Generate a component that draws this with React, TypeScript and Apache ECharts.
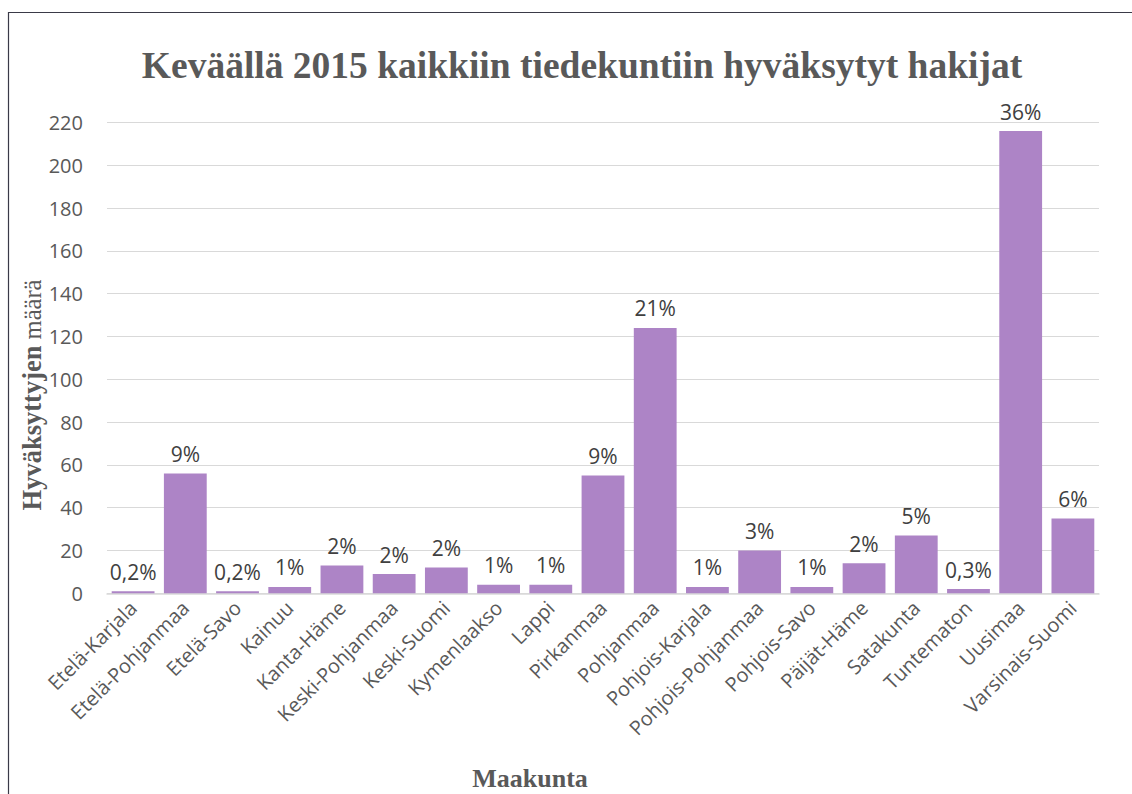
import React, { useEffect, useRef } from "react";
import * as echarts from "echarts";

const categories = [
  "Etelä-Karjala", "Etelä-Pohjanmaa", "Etelä-Savo", "Kainuu", "Kanta-Häme",
  "Keski-Pohjanmaa", "Keski-Suomi", "Kymenlaakso", "Lappi", "Pirkanmaa",
  "Pohjanmaa", "Pohjois-Karjala", "Pohjois-Pohjanmaa", "Pohjois-Savo",
  "Päijät-Häme", "Satakunta", "Tuntematon", "Uusimaa", "Varsinais-Suomi",
];
const values = [1, 56, 1, 3, 13, 9, 12, 4, 4, 55, 124, 3, 20, 3, 14, 27, 2, 216, 35];
const percentLabels = [
  "0,2%", "9%", "0,2%", "1%", "2%", "2%", "2%", "1%", "1%", "9%",
  "21%", "1%", "3%", "1%", "2%", "5%", "0,3%", "36%", "6%",
];
const titleText = "Keväällä 2015 kaikkiin tiedekuntiin hyväksytyt hakijat";
const yNameBold = "Hyväksyttyjen";
const yNameRegular = " määrä";
const xName = "Maakunta";

export default function App() {
  const ref = useRef<HTMLDivElement>(null);
  useEffect(() => {
    if (!ref.current) return;
    const chart = echarts.init(ref.current, undefined, { renderer: "svg" });
    const sans = "'Open Sans', 'Noto Sans', sans-serif";
    const serif = "'Liberation Serif', 'Times New Roman', serif";
    chart.setOption({
      animation: false,
      backgroundColor: "#ffffff",
      grid: { left: 107, right: 33, top: 122.5, bottom: 200.7, containLabel: false },
      xAxis: {
        type: "category",
        data: categories,
        axisLine: { show: true, lineStyle: { color: "#d9d9d9", width: 1.5 } },
        axisTick: { show: false },
        axisLabel: {
          rotate: 45,
          interval: 0,
          margin: 11,
          color: "#595959",
          fontSize: 20,
          fontFamily: sans,
        },
      },
      yAxis: {
        type: "value",
        min: 0,
        max: 220,
        interval: 20,
        axisLine: { show: false },
        axisTick: { show: false },
        splitLine: { lineStyle: { color: "#d9d9d9", width: 1 } },
        axisLabel: {
          margin: 24,
          color: "#595959",
          fontSize: 20,
          fontFamily: sans,
        },
      },
      series: [
        {
          type: "bar",
          data: values,
          barCategoryGap: "18%",
          itemStyle: { color: "#ad84c6" },
          label: {
            show: true,
            position: "top",
            distance: 9,
            color: "#404040",
            fontSize: 21,
            fontFamily: sans,
            formatter: (p: any) => percentLabels[p.dataIndex],
          },
        },
      ],
      graphic: [
        {
          type: "rect",
          shape: { x: 8.5, y: 12.5, width: 1200, height: 900 },
          style: { fill: "none", stroke: "#3a3a48", lineWidth: 1.2 },
          silent: true,
        },
        {
          type: "text",
          x: 582,
          y: 65,
          style: {
            text: titleText,
            fill: "#595959",
            font: `bold 37.5px ${serif}`,
            textAlign: "center",
            textVerticalAlign: "middle",
          },
        },
        {
          type: "text",
          x: 32,
          y: 395,
          rotation: Math.PI / 2,
          style: {
            text: `{b|${yNameBold}}{r|${yNameRegular}}`,
            textAlign: "center",
            textVerticalAlign: "middle",
            rich: {
              b: { font: `bold 26.5px ${serif}`, fill: "#595959" },
              r: { font: `24.5px ${serif}`, fill: "#595959" },
            },
          },
        },
        {
          type: "text",
          x: 530,
          y: 778,
          style: {
            text: xName,
            fill: "#595959",
            font: `bold 26px ${serif}`,
            textAlign: "center",
            textVerticalAlign: "middle",
          },
        },
      ],
    });
    return () => chart.dispose();
  }, []);
  return (
    <div
      ref={ref}
      style={{ position: "fixed", left: 0, top: 0, width: 1132, height: 794 }}
    />
  );
}
